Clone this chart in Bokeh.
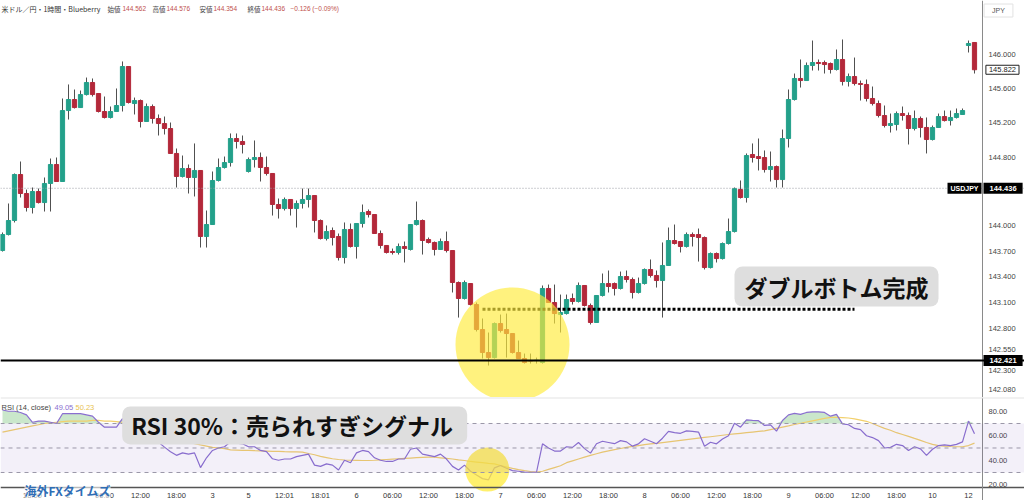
from bokeh.plotting import figure
from bokeh.models import (Range1d, FixedTicker, Label, Span, ColumnDataSource,
                          BoxAnnotation, PrintfTickFormatter, LinearAxis)
from bokeh.layouts import column
from bokeh.embed import file_html
from bokeh.resources import INLINE

# ---------------- data (USD/JPY 1h candles) ----------------
opens = [
    143.708, 143.895, 144.059, 144.597, 144.375, 144.211, 144.398, 144.269, 144.492, 144.714,
    144.515, 145.345, 145.474, 145.380, 145.532, 145.673, 145.544, 145.334, 145.264, 145.334,
    145.404, 145.860, 145.427, 145.462, 145.217, 145.392, 145.252, 145.193, 145.135, 144.843,
    144.574, 144.667, 144.562, 144.644, 143.872, 144.012, 144.527, 144.679, 144.737, 145.018,
    144.983, 144.632, 144.772, 144.796, 144.679, 144.609, 144.246, 144.199, 144.305, 144.199,
    144.258, 144.305, 144.351, 144.059, 143.848, 143.942, 143.872, 143.626, 143.954, 143.755,
    144.024, 144.164, 144.129, 143.907, 143.767, 143.696, 143.685, 143.755, 143.720, 144.012,
    144.059, 143.837, 143.802, 143.720, 143.813, 143.708, 143.334, 143.147, 143.322, 143.076,
    142.784, 142.515, 142.456, 142.854, 142.784, 142.737, 142.515, 142.445, 142.421, 142.421,
    142.398, 143.264, 143.100, 142.959, 142.971, 143.147, 143.112, 143.299, 143.065, 142.866,
    143.182, 143.322, 143.322, 143.264, 143.404, 143.369, 143.217, 143.322, 143.486, 143.416,
    143.357, 143.533, 143.825, 143.813, 143.755, 143.895, 143.895, 143.860, 143.509, 143.673,
    143.614, 143.790, 143.930, 144.421, 144.328, 144.831, 144.807, 144.796, 144.655, 144.690,
    144.538, 145.018, 145.474, 145.720, 145.696, 145.872, 145.907, 145.907, 145.895, 145.825,
    145.942, 145.685, 145.743, 145.661, 145.650, 145.486, 145.427, 145.287, 145.170, 145.182,
    145.310, 145.287, 145.135, 145.252, 145.147, 145.006, 145.147, 145.275, 145.228, 145.264,
    145.299, 146.106, 146.141,
]
highs = [
    143.919, 144.258, 144.609, 144.749, 144.421, 144.445, 144.433, 144.562, 144.784, 144.796,
    145.486, 145.650, 145.591, 145.579, 145.731, 145.720, 145.544, 145.509, 145.392, 145.603,
    145.919, 145.860, 145.497, 145.474, 145.427, 145.416, 145.299, 145.275, 145.205, 144.901,
    144.819, 144.714, 144.960, 144.644, 144.176, 144.632, 144.784, 144.807, 145.077, 145.077,
    145.053, 144.796, 144.995, 144.854, 144.807, 144.609, 144.316, 144.328, 144.305, 144.293,
    144.433, 144.433, 144.351, 144.071, 144.001, 143.977, 143.907, 144.036, 144.024, 144.024,
    144.246, 144.188, 144.129, 143.942, 143.767, 143.731, 143.790, 143.813, 144.012, 144.281,
    144.071, 143.860, 143.813, 143.848, 143.930, 143.708, 143.346, 143.357, 143.322, 143.100,
    142.913, 142.749, 142.866, 142.959, 142.971, 142.737, 142.655, 142.503, 142.503, 142.456,
    143.299, 143.310, 143.310, 143.193, 143.193, 143.205, 143.334, 143.299, 143.088, 143.182,
    143.439, 143.474, 143.334, 143.462, 143.474, 143.392, 143.392, 143.498, 143.603, 143.474,
    143.802, 143.977, 144.012, 143.813, 143.919, 143.919, 143.965, 143.872, 143.685, 143.685,
    143.802, 144.082, 144.445, 144.527, 144.843, 144.960, 145.018, 144.878, 144.866, 144.702,
    145.123, 145.591, 145.778, 145.942, 145.907, 146.164, 145.942, 145.930, 145.907, 146.059,
    146.176, 145.778, 145.965, 145.696, 145.708, 145.626, 145.462, 145.404, 145.310, 145.334,
    145.392, 145.322, 145.345, 145.275, 145.264, 145.170, 145.310, 145.345, 145.345, 145.369,
    145.369, 146.164, 146.141,
]
lows = [
    143.696, 143.884, 144.036, 144.328, 144.164, 144.141, 144.258, 144.164, 144.164, 144.515,
    144.515, 145.240, 145.369, 145.380, 145.521, 145.509, 145.322, 145.252, 145.252, 145.334,
    145.334, 145.427, 145.299, 145.147, 145.217, 145.193, 145.053, 145.065, 144.843, 144.445,
    144.562, 144.375, 144.340, 143.743, 143.743, 144.012, 144.515, 144.667, 144.690, 144.901,
    144.843, 144.620, 144.679, 144.515, 144.585, 144.117, 144.082, 144.176, 144.117, 143.977,
    144.199, 144.211, 143.919, 143.837, 143.825, 143.767, 143.591, 143.556, 143.743, 143.614,
    143.977, 144.094, 143.907, 143.731, 143.673, 143.661, 143.661, 143.568, 143.708, 144.001,
    143.661, 143.790, 143.650, 143.720, 143.685, 143.217, 142.924, 143.135, 143.065, 142.761,
    142.445, 142.363, 142.445, 142.749, 142.456, 142.503, 142.445, 142.386, 142.386, 142.386,
    142.386, 143.100, 142.854, 142.749, 142.959, 143.076, 143.100, 143.053, 142.843, 142.866,
    143.170, 143.217, 143.182, 143.252, 143.334, 143.147, 143.205, 143.310, 143.392, 143.275,
    142.924, 143.533, 143.778, 143.685, 143.743, 143.755, 143.579, 143.486, 143.498, 143.568,
    143.603, 143.778, 143.919, 144.316, 144.269, 144.737, 144.644, 144.620, 144.515, 144.445,
    144.445, 144.913, 145.462, 145.614, 145.696, 145.813, 145.813, 145.778, 145.778, 145.813,
    145.638, 145.626, 145.638, 145.462, 145.451, 145.404, 145.264, 145.147, 145.088, 145.112,
    145.228, 144.948, 145.112, 145.030, 144.843, 144.995, 145.147, 145.217, 145.170, 145.252,
    145.299, 146.024, 145.778,
]
closes = [
    143.895, 144.059, 144.597, 144.375, 144.211, 144.398, 144.269, 144.492, 144.714, 144.515,
    145.345, 145.474, 145.380, 145.532, 145.673, 145.532, 145.334, 145.264, 145.334, 145.404,
    145.860, 145.439, 145.462, 145.217, 145.392, 145.252, 145.193, 145.135, 144.843, 144.574,
    144.667, 144.562, 144.644, 143.872, 144.012, 144.527, 144.679, 144.737, 145.018, 144.983,
    144.948, 144.772, 144.796, 144.679, 144.609, 144.246, 144.199, 144.305, 144.199, 144.258,
    144.305, 144.351, 144.059, 143.848, 143.930, 143.860, 143.626, 143.954, 143.755, 144.024,
    144.153, 144.129, 143.907, 143.767, 143.685, 143.685, 143.755, 143.731, 144.012, 144.059,
    143.825, 143.802, 143.720, 143.813, 143.708, 143.334, 143.147, 143.334, 143.076, 142.784,
    142.515, 142.456, 142.854, 142.772, 142.737, 142.515, 142.445, 142.398, 142.415, 142.427,
    143.264, 143.100, 142.971, 142.983, 143.135, 143.112, 143.299, 143.065, 142.866, 143.182,
    143.322, 143.287, 143.264, 143.404, 143.369, 143.217, 143.322, 143.486, 143.416, 143.357,
    143.533, 143.825, 143.790, 143.755, 143.895, 143.872, 143.860, 143.509, 143.673, 143.614,
    143.790, 143.930, 144.433, 144.328, 144.819, 144.796, 144.784, 144.655, 144.690, 144.538,
    145.018, 145.474, 145.720, 145.696, 145.872, 145.907, 145.895, 145.883, 145.825, 145.942,
    145.685, 145.743, 145.661, 145.650, 145.486, 145.427, 145.287, 145.170, 145.193, 145.310,
    145.287, 145.135, 145.252, 145.147, 145.006, 145.147, 145.275, 145.228, 145.264, 145.310,
    145.345, 146.129, 145.822,
]
rsi = [
    81, 80, 80, 79, 77, 71, 72, 72, 71, 70,
    78, 78, 78, 78, 77, 76, 71, 67, 67, 67,
    74, 62, 62, 57, 60, 56, 54.7, 50.7, 47, 44,
    46, 45, 46, 34, 42, 48, 50, 51, 55, 54,
    53.4, 51, 51, 48, 47, 41.2, 40, 41, 41, 43,
    44, 45, 36, 35, 37, 36, 32, 40, 38, 46,
    48, 47, 42, 40, 39, 39, 41, 41, 49, 50,
    45, 44, 43, 45, 41, 35, 32, 36, 31, 28,
    25, 24, 33.8, 35.7, 33.5, 31.5, 31, 30.3, 30.2, 30.2,
    53.4, 50, 47.5, 47.5, 51, 50.5, 54.5, 49.5, 45.8, 53.5,
    55.5, 54.5, 53.5, 56, 55, 51.5, 53.4, 57.5, 55.5, 53.5,
    58, 63.5, 62.5, 62, 64, 63.5, 63, 51.5, 54.7, 53.4,
    57.4, 60, 70.2, 67, 73, 72.5, 72.3, 68.4, 68.9, 63.8,
    72.4, 77, 78.2, 77.5, 79, 79.5, 79.5, 79, 76, 77.5,
    69.7, 69, 66, 65, 60, 58.5, 56, 50, 50.5, 53,
    52, 48, 51, 49.3, 44, 49, 52, 52.5, 52, 53,
    55, 72, 61.6,
]
rsi_ma = [
    63, 64, 65, 66, 67, 68, 69, 70, 70.5, 71,
    71.5, 72, 72, 72, 72, 72.5, 72.5, 72, 72, 71.5,
    71, 70, 68.5, 67, 65.5, 64, 62, 60, 58.5, 57,
    55.5, 54.5, 53.5, 52.5, 51.5, 50.5, 50, 49.5, 48.5, 48.3,
    48.1, 48, 47.8, 47.7, 47.5, 47.3, 47.2, 47, 46.9, 46.8,
    46.6, 45.5, 44.5, 43.2, 42.2, 41.2, 40.6, 40.2, 40, 39.9,
    39.8, 39.8, 40, 40.3, 40.6, 40.9, 41.2, 41.5, 41.8, 42.1,
    42.4, 42.5, 42.5, 42, 41.5, 41, 40.3, 39.8, 39, 38.5,
    38, 37.5, 37.1, 35.7, 34.5, 33.3, 32.3, 31.5, 30.8, 30.3,
    31, 32.5, 34, 35.5, 38, 39.5, 41, 42.5, 44, 45.3,
    46.6, 47.6, 48.6, 49.6, 50.5, 51.3, 52, 52.7, 53.3, 53.8,
    54.4, 55, 55.6, 56.2, 56.8, 57.4, 58, 58.6, 59.2, 59.8,
    60.4, 61, 61.5, 62, 62.5, 63, 63.5, 64, 65, 66,
    67, 68, 69.2, 70.2, 71.2, 72.2, 73.2, 74.2, 75, 75,
    74.8, 74.5, 73.8, 72.8, 71.8, 70, 68, 66, 64.5, 62.5,
    61, 59.5, 57.8, 56.2, 54.5, 53, 52, 51.5, 51.2, 51,
    51, 52, 54,
]
price_ticks = [146.0, 145.6, 145.2, 144.8, 144.0, 143.7, 143.4, 143.1, 142.8, 142.55, 142.3, 142.08]
rsi_ticks = [80, 60, 40, 20]
time_tick_idx = [5, 11, 17, 23, 29, 35, 41, 47, 53, 59, 65, 71, 77, 83, 89, 95,
                 101, 107, 113, 119, 125, 131, 137, 143, 149, 155, 161]
time_tick_labels = ["18:00", "2", "06:00", "12:00", "18:00", "3", "5", "12:01", "18:01", "6",
                    "06:00", "12:00", "18:00", "7", "06:00", "12:00", "18:00", "8", "06:00",
                    "12:00", "18:00", "9", "06:00", "12:00", "18:00", "10", "12"]
header_names = ["始値", "高値", "安値", "終値"]
header_vals = ["144.562", "144.576", "144.354", "144.436"]
header_change = "−0.126 (−0.09%)"
last_price = 144.436
support_price = 142.421
neckline_price = 143.02
neck_start_idx, neck_end_idx = 80, 142
rsi_legend_vals = ["49.05", "50.23"]

# annotation anchors (index / value space)
axis_idx = 163.33          # where the price scale sits
circle_idx, circle_price = 85, 142.61
rsi_circle_idx, rsi_circle_val = 80.8, 32.4
note1_idx, note1_price = 139, 143.287
note2_idx, note2_val = 48.7, 68.4

# ---------------- styling ----------------
UP = "#23a08a"
DOWN = "#b3283a"
WICK = "#505050"
JP = "Noto Sans CJK JP"
LAT = "Liberation Sans"

n = len(closes)
idx = list(range(n))
src = ColumnDataSource(dict(
    x=idx, o=opens, h=highs, l=lows, c=closes,
    top=[max(a, b) for a, b in zip(opens, closes)],
    bot=[min(a, b) for a, b in zip(opens, closes)],
    col=[UP if c >= o else DOWN for o, c in zip(opens, closes)],
))

W = 1024
x_range = Range1d(-1 / 3, 170 + 1 / 3)


def style_price_axis(a, fs):
    a.major_tick_line_color = None
    a.minor_tick_line_color = None
    a.major_tick_out = 0
    a.major_tick_in = 0
    a.axis_line_color = "#8a8a8a"
    a.major_label_text_font = LAT
    a.major_label_text_font_size = fs
    a.major_label_text_color = "#444444"
    a.major_label_standoff = 6


p1 = figure(width=W, height=397, x_range=x_range, y_range=Range1d(141.989, 146.632),
            output_backend="svg", toolbar_location=None, x_axis_location=None,
            y_axis_location=None, min_border_left=0, min_border_right=0,
            min_border_top=0, min_border_bottom=0)
p1.grid.visible = False
p1.outline_line_color = None

pax = LinearAxis(fixed_location=axis_idx, ticker=FixedTicker(ticks=price_ticks),
                 formatter=PrintfTickFormatter(format="%.3f"))
style_price_axis(pax, "7.5px")
p1.add_layout(pax, "right")

p1.add_layout(Span(location=last_price, dimension="width", line_color="#9a9ca3",
                   line_dash="1 2", line_width=1))
p1.add_layout(Span(location=support_price, dimension="width", line_color="black",
                   line_width=2))

p1.segment(x0="x", y0="h", x1="x", y1="l", source=src, line_color=WICK, line_width=1)
p1.vbar(x="x", width=0.7, top="top", bottom="bot", source=src, fill_color="col",
        line_color="col", line_width=1)

p1.segment(x0=[neck_start_idx], y0=[neckline_price], x1=[neck_end_idx], y1=[neckline_price],
           line_color="black", line_width=3, line_dash="3 2")

p1.scatter(x=[circle_idx], y=[circle_price], size=114, marker="circle",
           fill_color="#ffeb3b", fill_alpha=0.66, line_color=None)

p1.add_layout(Label(x=note1_idx, y=note1_price, text="ダブルボトム完成", text_font=JP,
                    text_font_size="23px", text_font_style="bold", text_color="#111111",
                    text_align="center", text_baseline="middle",
                    background_fill_color="#dedede", background_fill_alpha=1.0,
                    border_radius=8, padding=(10, 3)))

# header line
HY = 389
p1.add_layout(Label(x=100, y=HY, x_units="screen", y_units="screen",
                    text="米ドル／円・1時間・Blueberry", text_font=JP, text_font_size="7px",
                    text_color="#333333", text_align="right", text_baseline="middle"))
name_x = [107, 152, 199, 247]
val_x = [122, 166, 213, 261]
for nm, vl, nx, vx in zip(header_names, header_vals, name_x, val_x):
    p1.add_layout(Label(x=nx, y=HY, x_units="screen", y_units="screen", text=nm,
                        text_font=JP, text_font_size="6.5px", text_color="#444444",
                        text_baseline="middle"))
    p1.add_layout(Label(x=vx, y=HY, x_units="screen", y_units="screen", text=vl,
                        text_font=LAT, text_font_size="6.5px", text_color="#c0504d",
                        text_baseline="middle"))
p1.add_layout(Label(x=290, y=HY, x_units="screen", y_units="screen", text=header_change,
                    text_font=LAT, text_font_size="6.5px", text_color="#c0504d",
                    text_baseline="middle"))

# price-scale badges
p1.add_layout(Label(x=166.0, y=387, y_units="screen", text="JPY",
                    text_font=LAT, text_font_size="7px", text_color="#555555",
                    text_align="center", text_baseline="middle",
                    border_line_color="#e2e2e2", padding=(8, 3)))
p1.add_layout(Label(x=163.9, y=closes[-1], text=f"{closes[-1]:.3f}",
                    text_font=LAT, text_font_size="7.5px", text_color="#222222",
                    text_baseline="middle", background_fill_color="white",
                    border_line_color="#222222", padding=(3, 2)))
p1.add_layout(Label(x=163.17, y=last_price, text="USDJPY",
                    text_font=LAT, text_font_size="7px", text_font_style="bold",
                    text_color="white", text_align="right", text_baseline="middle",
                    background_fill_color="black", padding=(3, 2)))
p1.add_layout(Label(x=163.5, y=last_price, text=f"{last_price:.3f}",
                    text_font=LAT, text_font_size="7.5px", text_font_style="bold",
                    text_color="white", text_baseline="middle",
                    background_fill_color="black", padding=(6, 3)))
p1.add_layout(Label(x=163.5, y=support_price, text=f"{support_price:.3f}",
                    text_font=LAT, text_font_size="7.5px", text_font_style="bold",
                    text_color="white", text_baseline="middle",
                    background_fill_color="black", padding=(6, 3)))

# ---------------- RSI panel ----------------
time_axis_val = 17.76
p2 = figure(width=W, height=103, x_range=x_range, y_range=Range1d(7.14, 91.22),
            output_backend="svg", toolbar_location=None, x_axis_location=None,
            y_axis_location=None, min_border_left=0, min_border_right=0,
            min_border_top=0, min_border_bottom=0)
p2.grid.visible = False
p2.outline_line_color = None

p2.add_layout(BoxAnnotation(bottom=30, top=70, fill_color="#7e57c2", fill_alpha=0.09,
                            line_color=None))
for lv in (70, 50, 30):
    p2.add_layout(Span(location=lv, dimension="width", line_color="#9a97a8",
                       line_dash="4 4", line_width=1))
p2.add_layout(Span(location=91.22, dimension="width", line_color="#e3e3e3", line_width=2))

p2.varea(x=idx, y1=[70] * n, y2=[max(v, 70) for v in rsi], fill_color="#66bb6a",
         fill_alpha=0.35)
p2.line(idx, rsi_ma, line_color="#f2d06b", line_width=1.2)
p2.line(idx, rsi, line_color="#8a6fd0", line_width=1.2)

p2.scatter(x=[rsi_circle_idx], y=[rsi_circle_val], size=44, marker="circle",
           fill_color="#ffeb3b", fill_alpha=0.75, line_color=None)

rax = LinearAxis(fixed_location=axis_idx, ticker=FixedTicker(ticks=rsi_ticks),
                 formatter=PrintfTickFormatter(format="%.2f"))
style_price_axis(rax, "7.5px")
p2.add_layout(rax, "right")

bx = LinearAxis(fixed_location=time_axis_val, ticker=FixedTicker(ticks=time_tick_idx))
bx.major_label_overrides = {k: t for k, t in zip(time_tick_idx, time_tick_labels)}
bx.major_tick_line_color = None
bx.minor_tick_line_color = None
bx.major_tick_out = 0
bx.major_tick_in = 0
bx.axis_line_color = "#555555"
bx.axis_line_width = 1.5
bx.major_label_text_font = LAT
bx.major_label_text_font_size = "7.5px"
bx.major_label_text_color = "#333333"
bx.major_label_standoff = 4
p2.add_layout(bx, "below")

p2.add_layout(Label(x=note2_idx, y=note2_val, text="RSI  30%：売られすぎシグナル",
                    text_font=JP, text_font_size="23px", text_font_style="bold",
                    text_color="#111111", text_align="center", text_baseline="middle",
                    background_fill_color="#dedede", background_fill_alpha=1.0,
                    border_radius=8, padding=(9, 2)))

p2.add_layout(Label(x=1, y=83.06, x_units="screen", text="RSI (14, close)", text_font=LAT,
                    text_font_size="7.5px", text_color="#444444", text_align="left",
                    text_baseline="middle"))
p2.add_layout(Label(x=54, y=83.06, x_units="screen", text=rsi_legend_vals[0], text_font=LAT,
                    text_font_size="7.5px", text_color="#8a6fd0", text_baseline="middle"))
p2.add_layout(Label(x=75, y=83.06, x_units="screen", text=rsi_legend_vals[1], text_font=LAT,
                    text_font_size="7.5px", text_color="#e8c250", text_baseline="middle"))

p2.add_layout(Label(x=24, y=15.2, x_units="screen", text="海外FXタイムズ",
                    text_font=JP, text_font_size="12px", text_font_style="bold",
                    text_color="#2f6db5", text_baseline="middle",
                    background_fill_color="white", background_fill_alpha=0.6))

layout = column(p1, p2, spacing=0)
open("out.html", "w").write(file_html(layout, INLINE))
